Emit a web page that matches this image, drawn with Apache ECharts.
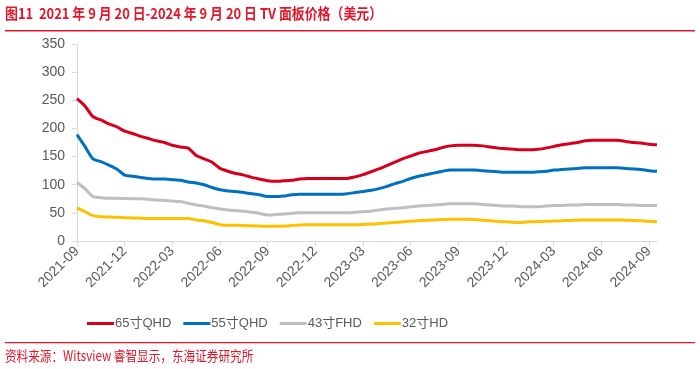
<!DOCTYPE html>
<html>
<head>
<meta charset="utf-8">
<script src="https://cdn.jsdelivr.net/npm/echarts@6/dist/echarts.min.js"></script>
<style>
html,body{margin:0;padding:0;background:#fff;}
#chart{width:700px;height:369px;}
</style>
</head>
<body>
<div id="chart"></div>
<script>
const categories = [
"2021-09-05","2021-09-20","2021-10-05","2021-10-20","2021-11-05","2021-11-20","2021-12-05","2021-12-20",
"2022-01-05","2022-01-20","2022-02-05","2022-02-20","2022-03-05","2022-03-20","2022-04-05","2022-04-20",
"2022-05-05","2022-05-20","2022-06-05","2022-06-20","2022-07-05","2022-07-20","2022-08-05","2022-08-20",
"2022-09-05","2022-09-20","2022-10-05","2022-10-20","2022-11-05","2022-11-20","2022-12-05","2022-12-20",
"2023-01-05","2023-01-20","2023-02-05","2023-02-20","2023-03-05","2023-03-20","2023-04-05","2023-04-20",
"2023-05-05","2023-05-20","2023-06-05","2023-06-20","2023-07-05","2023-07-20","2023-08-05","2023-08-20",
"2023-09-05","2023-09-20","2023-10-05","2023-10-20","2023-11-05","2023-11-20","2023-12-05","2023-12-20",
"2024-01-05","2024-01-20","2024-02-05","2024-02-20","2024-03-05","2024-03-20","2024-04-05","2024-04-20",
"2024-05-05","2024-05-20","2024-06-05","2024-06-20","2024-07-05","2024-07-20","2024-08-05","2024-08-20",
"2024-09-05","2024-09-20"
];
const seriesNames = ["65寸QHD","55寸QHD","43寸FHD","32寸HD"];
const qhd65 = [253,240,221,215,208,203,195,191,186,182,178,175,170,167,165,152,146,140,129,124,
120,117,113,110,107,106,107,108,110,111,111,111,111,111,111,114,118,123,128,134,
140,146,151,156,159,162,166,169,170,170,170,169,167,165,164,163,162,162,163,165,
168,171,173,175,178,179,179,179,179,177,175,174,172,171];
const qhd55 = [189,168,146,141,135,128,117,115,113,111,110,110,109,108,105,103,100,95,91,89,
88,86,84,82,79,79,80,82,83,83,83,83,83,83,84,86,88,90,93,97,
102,106,111,115,118,121,124,126,126,126,126,125,124,123,122,122,122,122,123,124,
126,127,128,129,130,130,130,130,130,129,128,127,125,124];
const fhd43 = [104,93,79,77,76,76,75.5,75,75,74,73,72,71,70,67,64,62,59,57,55,
54,53,51,49,46,47,48,49,50,50,50,50,50,50,50,51,52,53,55,57,
58,59,61,62,63,64,65,66,66,66,66,65,64,63,62,62,61,61,61,62,
63,63,64,64,65,65,65,65,65,64,64,63,63,63];
const hd32 = [59,52,45,43,42.5,42,41.5,41,40.5,40,40,40,40,40,40,37.5,36,33,29,28,
28,27.5,27,26.5,26,26,26.5,27.5,28.5,29,29,29,29,29,29,29,29.5,30,31,32,
33,34,35,36,37,37.5,38,38.5,38.5,38.5,38,37,36,34.5,34,33,33,34,34.5,35,
35.5,36,36.5,37,37.5,37.5,37.5,37.5,37.5,37,36.5,36,35,34];
const yTicks = {min:0, max:350, interval:50};
const colors = ["#d6001c","#0070c0","#bfbfbf","#ffc000"];
const titleText = "图11  2021 年 9 月 20 日-2024 年 9 月 20 日 TV 面板价格（美元）";
const sourceText = "资料来源：Witsview 睿智显示，东海证券研究所";

const chart = echarts.init(document.getElementById('chart'), null, {renderer:'canvas'});
const allData = [qhd65, qhd55, fhd43, hd32];
const font = '"Liberation Sans", Arial, "Noto Sans CJK SC", sans-serif';
chart.setOption({
  backgroundColor:'#ffffff',
  animation:false,
  color: colors,
  grid:{left:77,right:43,top:44,bottom:128,containLabel:false},
  legend:{
    top:312, left:82,
    itemWidth:27, itemHeight:3, itemGap:12,
    icon:'rect',
    textStyle:{color:'#595959', fontSize:13, fontFamily:font, padding:[0,0,0,-4]},
    data: seriesNames
  },
  xAxis:{
    type:'category', data:categories, boundaryGap:false,
    axisLine:{show:true, lineStyle:{color:'#d9d9d9', width:1}},
    axisTick:{show:true, interval:5, length:5, lineStyle:{color:'#d9d9d9'}},
    axisLabel:{interval:5, rotate:45, color:'#595959', fontSize:14, fontFamily:font, margin:8,
      formatter:v=>v.slice(0,7)},
    splitLine:{show:false}
  },
  yAxis:{
    type:'value', min:yTicks.min, max:yTicks.max, interval:yTicks.interval,
    axisLine:{show:true, lineStyle:{color:'#d9d9d9', width:1}},
    axisTick:{show:true, length:5, lineStyle:{color:'#d9d9d9'}},
    axisLabel:{color:'#595959', fontSize:14, fontFamily:font, margin:12},
    splitLine:{show:false}
  },
  series: seriesNames.map((n,i)=>({
    name:n, type:'line', data:allData[i], symbol:'none', smooth:0.2,
    lineStyle:{width:3, color:colors[i]}, itemStyle:{color:colors[i]}
  })),
  graphic:[
    {type:'text', x:5, y:6, scaleX:0.86, style:{text:titleText, fill:'#e2162b', font:'bold 15px "Noto Sans CJK SC", sans-serif'}},
    {type:'rect', shape:{x:5,y:30,width:690,height:1.5}, style:{fill:'#e2162b'}},
    {type:'rect', shape:{x:5,y:342,width:690,height:1.2}, style:{fill:'#e2162b'}},
    {type:'text', x:5, y:349, scaleX:0.83, style:{text:sourceText, fill:'#e2162b', font:'14px "Noto Sans CJK SC", sans-serif'}}
  ]
});
</script>
</body>
</html>
